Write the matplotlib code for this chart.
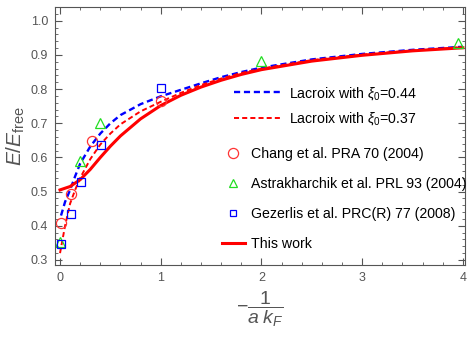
import matplotlib
matplotlib.use("Agg")
import matplotlib.pyplot as plt
from matplotlib.lines import Line2D
from matplotlib.ticker import MultipleLocator

plt.rcParams["font.family"] = ["Liberation Sans", "DejaVu Sans"]
plt.rcParams["mathtext.fontset"] = "custom"
plt.rcParams["mathtext.rm"] = "Liberation Sans"
plt.rcParams["mathtext.it"] = "Liberation Sans:italic"

# curves
x_work = [0.0, 0.1, 0.2, 0.3, 0.4, 0.5, 0.6, 0.8, 1.0, 1.2, 1.4, 1.6, 1.8, 2.0, 2.5, 3.0, 3.5, 4.0]
y_work = [0.505, 0.515, 0.535, 0.565, 0.600, 0.633, 0.663, 0.713, 0.752, 0.782, 0.806, 0.826, 0.843, 0.857, 0.882, 0.899, 0.912, 0.921]

x_lac44 = [0.01, 0.05, 0.1, 0.15, 0.2, 0.3, 0.4, 0.5, 0.6, 0.8, 1.0, 1.2, 1.4, 1.6, 1.8, 2.0, 2.5, 3.0, 3.5, 4.0]
y_lac44 = [0.43, 0.47, 0.505, 0.545, 0.582, 0.632, 0.670, 0.700, 0.724, 0.756, 0.779, 0.798, 0.817, 0.835, 0.850, 0.863, 0.887, 0.903, 0.915, 0.924]

x_lac37 = [0.0, 0.05, 0.1, 0.15, 0.2, 0.3, 0.4, 0.5, 0.6, 0.8, 1.0, 1.2, 1.4, 1.6, 1.8, 2.0, 2.5, 3.0, 3.5, 4.0]
y_lac37 = [0.32, 0.40, 0.465, 0.505, 0.540, 0.595, 0.638, 0.670, 0.697, 0.735, 0.763, 0.789, 0.812, 0.831, 0.847, 0.860, 0.885, 0.901, 0.913, 0.923]

# data points
x_chang = [0.01, 0.11, 0.32, 1.0]
y_chang = [0.407, 0.494, 0.647, 0.764]

x_astra = [0.0, 0.2, 0.4, 2.0, 3.955]
y_astra = [0.353, 0.589, 0.700, 0.883, 0.934]

x_gez = [0.01, 0.105, 0.21, 0.405, 1.0]
y_gez = [0.346, 0.436, 0.528, 0.637, 0.802]

green = "#22DD22"
grey = "#555555"
fs_leg = 10.2

fig = plt.figure(figsize=(4.72, 3.39), dpi=100)
ax = fig.add_axes([0.1165, 0.218, 0.8685, 0.761])

dash = (0, (2.6, 1.6))
l44, = ax.plot(x_lac44, y_lac44, color="blue", ls=dash, lw=1.7)
l37, = ax.plot(x_lac37, y_lac37, color="red", ls=dash, lw=1.4)
lw_, = ax.plot(x_work, y_work, color="red", lw=2.2)
ax.plot(x_chang, y_chang, "o", ms=7.3, mfc="none", mec="#FF3333", mew=0.9, ls="none")
ax.plot(x_astra, y_astra, "^", ms=6.5, mfc="none", mec=green, mew=0.9, ls="none")
ax.plot(x_gez, y_gez, "s", ms=5.3, mfc="none", mec="blue", mew=0.9, ls="none")

ax.set_xlim(-0.05, 4.02)
ax.set_ylim(0.285, 1.04)
ax.xaxis.set_major_locator(MultipleLocator(1))
ax.xaxis.set_minor_locator(MultipleLocator(0.2))
ax.yaxis.set_major_locator(MultipleLocator(0.1))
ax.yaxis.set_minor_locator(MultipleLocator(0.02))
ax.yaxis.set_major_formatter(plt.FuncFormatter(lambda v, p: f"{v:.1f}"))
ax.tick_params(which="both", direction="in", top=True, right=True, color=grey,
               labelcolor=grey, labelsize=9)
ax.tick_params(which="major", length=5, width=0.8, pad=5)
ax.tick_params(which="minor", length=2.5, width=0.6)
for s in ax.spines.values():
    s.set_color(grey)
    s.set_linewidth(0.8)

ax.set_ylabel(r"$E/E_{\mathrm{free}}$", fontsize=15, color=grey, labelpad=3)
ax.set_xlabel(r"$-\dfrac{1}{a\;k_F}$", fontsize=14, color=grey, labelpad=4)

leg1 = ax.legend([l44, l37], [r"Lacroix with $\xi_0$=0.44", r"Lacroix with $\xi_0$=0.37"],
                 loc="upper left", bbox_to_anchor=(0.42, 0.726), frameon=False,
                 fontsize=fs_leg, handlelength=3.2, handletextpad=0.7, labelspacing=0.62,
                 borderpad=0)
ax.add_artist(leg1)
h_work = Line2D([], [], color="red", lw=2.2)
h_c = Line2D([], [], marker="o", ms=7.3, mfc="none", mec="#FF3333", mew=0.9, ls="none")
h_t = Line2D([], [], marker="^", ms=6, mfc="none", mec=green, mew=0.9, ls="none")
h_s = Line2D([], [], marker="s", ms=5, mfc="none", mec="blue", mew=0.9, ls="none")
ax.legend([h_c, h_t, h_s, h_work],
          ["Chang et al. PRA 70 (2004)", "Astrakharchik et al. PRL 93 (2004)",
           "Gezerlis et al. PRC(R) 77 (2008)", "This work"],
          loc="upper left", bbox_to_anchor=(0.39, 0.484), frameon=False,
          fontsize=fs_leg, handlelength=1.6, handletextpad=0.45, labelspacing=1.13,
          borderpad=0)

fig.savefig("out.png", dpi=100)
